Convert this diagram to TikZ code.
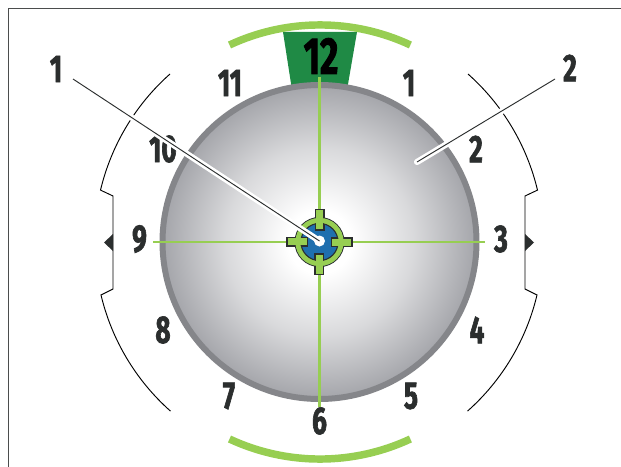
\documentclass[tikz,border=0pt]{standalone}
\usepackage{fontspec}
\usetikzlibrary{positioning}
\setmainfont[FakeStretch=0.68,BoldFeatures={FakeBold=1.6}]{Fira Sans}
\definecolor{dlring}{HTML}{85868A}
\definecolor{dlgrey}{HTML}{A4A5AA}
\definecolor{dllime}{HTML}{97CE52}
\definecolor{dlgreen}{HTML}{1F8A45}
\definecolor{dlblue}{HTML}{1F6FAE}
\definecolor{dlink}{HTML}{2B2E2E}
\pgfdeclareradialshading{dialshade}{\pgfpoint{0bp}{0bp}}{color(0bp)=(white); color(5bp)=(white); color(15bp)=(dlgrey!42!white); color(25bp)=(dlgrey); color(50bp)=(dlgrey)}
\tikzset{
  hour/.style={font=\fontsize{29}{29}\selectfont\bfseries,text=dlink,inner sep=0pt},
  callout/.style={font=\fontsize{29}{29}\selectfont\bfseries,text=dlink,inner sep=0pt},
  limearc/.style={draw=dllime,line width=5.6pt},
  hair/.style={draw=dllime,line width=1.8pt},
  scalearc/.style={draw=black,line width=0.7pt},
  halo/.style={draw=white,line width=4.6pt},
  leader/.style={draw=dlink,line width=0.7pt},
  tick/.style={fill=dllime,draw=dlink,line width=0.8pt},
}
\begin{document}
\begin{tikzpicture}[x=0.75pt,y=-0.75pt]
  \useasboundingbox (0,0) rectangle (621,467);
  % frame
  \draw[dlink!85,line width=1pt] (8.5,467) -- (8.5,8.5) -- (621,8.5);

  % dark green sector and lime arcs
  \coordinate (mid) at (319.5,242);
  \fill[dlgreen] (283,32) -- (357,32) -- (347,90) -- (292,90) -- cycle;
  \draw[limearc] (229.5,45) arc[start angle=245,end angle=295,radius=214];
  \draw[limearc] (229.5,439) arc[start angle=115,end angle=65,radius=214];

  % dial
  \shade[shading=dialshade] (mid) circle[radius=157];
  \draw[dlring,line width=4.5pt] (mid) circle[radius=157];

  % hours
  \node[hour,font=\fontsize{39}{39}\selectfont\bfseries,text=black] (h12) at (321,56) {12};
  \foreach \n/\x/\y in {1/409/83,2/476/149,3/501/239,4/477/330,5/411/396,6/319.5/421,7/229/396,8/163/330,9/139.5/239,10/163/149,11/230/83}
    \node[hour] (h\n) at (\x,\y) {\n};

  % hairlines
  \draw[hair] (319.5,77) -- (319.5,407);
  \draw[hair] (153,242) -- (485,242);

  % side scales
  \draw[scalearc] (170,74) arc[start angle=228.4,end angle=193.4,radius=225]
    -- (113,196) -- (113,289) -- (101,295) arc[start angle=166.6,end angle=131.6,radius=225];
  \draw[scalearc] (468,74) arc[start angle=-48.4,end angle=-13.4,radius=225]
    -- (525,196) -- (525,289) -- (537,295) arc[start angle=13.4,end angle=48.4,radius=225];
  \fill[dlink] (113,234) -- (104,242.5) -- (113,251) -- cycle;
  \fill[dlink] (525,234) -- (534,242.5) -- (525,251) -- cycle;

  % reticle
  \draw[dlink,line width=0.8pt,fill=dlblue] (mid) circle[radius=24.5];
  \foreach \a in {0,90,180,270}
    \draw[tick,rotate around={\a:(mid)}] (331.5,238) rectangle (352,246.5);
  \draw[dllime,line width=3.9pt] (mid) circle[radius=21.5];
  \draw[dlink,line width=0.8pt] (mid) circle[radius=18.6];
  \foreach \a in {0,90,180,270}
    \fill[dllime,rotate around={\a:(mid)}] (336,238.6) rectangle (345,245.9);

  % callouts
  \node[callout] (c1) at (56,69) {1};
  \node[callout] (c2) at (570,68) {2};
  \coordinate (t1) at (319.5,241);
  \coordinate (t2) at (417,162);
  \draw[halo] (73,79) -- (t1);
  \fill[white] (t1) circle[radius=5.5];
  \draw[leader] (73,79) -- (t1);
  \draw[halo,line cap=round] (555,79) -- (t2);
  \draw[leader] (555,79) -- (t2);
\end{tikzpicture}
\end{document}
